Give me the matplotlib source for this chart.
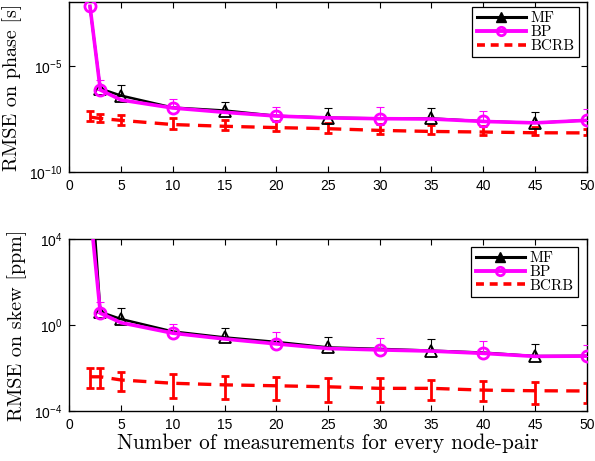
import matplotlib
matplotlib.use("Agg")
import matplotlib.pyplot as plt
import numpy as np
from matplotlib.lines import Line2D

plt.rcParams["mathtext.fontset"] = "custom"
plt.rcParams["mathtext.rm"] = "Liberation Sans"
plt.rcParams["mathtext.it"] = "Liberation Sans:italic"
plt.rcParams["font.family"] = "Liberation Sans"

# measurements per node-pair
x = [2, 3, 5, 10, 15, 20, 25, 30, 35, 40, 45, 50]

# phase RMSE [s]
mf_phase = [5.6e-3, 8.5e-7, 4.0e-7, 1.1e-7, 8.0e-8, 4.5e-8, 3.7e-8, 3.4e-8, 3.4e-8, 2.5e-8, 2.1e-8, 2.8e-8]
bp_phase = [6.3e-3, 7.4e-7, 2.5e-7, 1.05e-7, 6.6e-8, 4.4e-8, 3.6e-8, 3.3e-8, 3.2e-8, 2.45e-8, 2.1e-8, 2.75e-8]
bcrb_phase = [3.9e-8, 3.4e-8, 2.75e-8, 1.75e-8, 1.45e-8, 1.26e-8, 1.12e-8, 9.3e-9, 8.3e-9, 7.8e-9, 7.2e-9, 7.1e-9]
bcrb_phase_hi = [7.2e-8, 5.6e-8, 5.0e-8, 3.6e-8, 3.0e-8, 2.5e-8, 2.1e-8, 1.9e-8, 1.6e-8, 1.45e-8, 1.3e-8, 1.12e-8]
bcrb_phase_lo = [2.5e-8, 2.3e-8, 1.75e-8, 1.12e-8, 9.3e-9, 8.3e-9, 7.2e-9, 6.6e-9, 6.6e-9, 5.9e-9, 5.5e-9, 5.5e-9]
mf_phase_top = [1.3e-6, 2.1e-7, 1.1e-7, 1.07e-7, 6.5e-8]          # x = 5,15,25,35,45
bp_phase_top = [2.2e-6, 2.9e-7, 1.2e-7, 1.2e-7, 7.2e-8, 9.8e-8]   # x = 3,10,20,30,40,50

# skew RMSE [ppm]
mf_skew = [4e7, 4.0, 1.86, 0.49, 0.26, 0.16, 0.089, 0.076, 0.063, 0.051, 0.035, 0.036]
bp_skew = [2.5e5, 3.5, 1.26, 0.41, 0.22, 0.13, 0.079, 0.068, 0.060, 0.047, 0.034, 0.035]
bcrb_skew = [3.8e-3, 3.8e-3, 2.7e-3, 1.9e-3, 1.6e-3, 1.45e-3, 1.3e-3, 1.1e-3, 1.1e-3, 9.1e-4, 8.5e-4, 8.3e-4]
bcrb_skew_hi = [1.0e-2, 1.0e-2, 6.6e-3, 5.0e-3, 4.2e-3, 3.6e-3, 3.5e-3, 3.2e-3, 2.7e-3, 2.4e-3, 2.1e-3, 1.9e-3]
bcrb_skew_lo = [1.2e-3, 1.2e-3, 8.5e-4, 4.1e-4, 3.4e-4, 3.2e-4, 2.6e-4, 2.6e-4, 3.2e-4, 2.8e-4, 2.0e-4, 2.3e-4]
mf_skew_top = [6.3, 0.69, 0.28, 0.22, 0.13]
bp_skew_top = [11.2, 1.07, 0.45, 0.25, 0.18, 0.115]

mf_idx = [1, 2, 4, 6, 8, 10]
mf_err_idx = [2, 4, 6, 8, 10]
bp_idx = [0, 1, 3, 5, 7, 9, 11]
bp_err_idx = [1, 3, 5, 7, 9, 11]

SERIF = "cmr10"


def panel(ax, mf, bp, bcrb, lo, hi, mf_top, bp_top, ylim, yticks, ylabel, leg_anchor):
    xa = np.array(x, dtype=float)
    mf, bp, bcrb = np.array(mf), np.array(bp), np.array(bcrb)

    ax.plot(xa, mf, color="black", lw=1.8, marker="^", ms=8, mfc="none", mew=1.3,
            markevery=mf_idx, zorder=3)
    xi = xa[mf_err_idx]
    ax.errorbar(xi, mf[mf_err_idx], yerr=[np.zeros(len(xi)), np.array(mf_top) - mf[mf_err_idx]],
                fmt="none", ecolor="black", elinewidth=0.8, capsize=3, capthick=0.8, zorder=3)

    ax.plot(xa, bp, color="magenta", lw=2.6, marker="o", ms=8, mfc="none", mew=2,
            markevery=bp_idx, zorder=4)
    xi = xa[bp_err_idx]
    ax.errorbar(xi, bp[bp_err_idx], yerr=[np.zeros(len(xi)), np.array(bp_top) - bp[bp_err_idx]],
                fmt="none", ecolor="magenta", elinewidth=0.8, capsize=3, capthick=0.8, zorder=4)

    ax.errorbar(xa, bcrb, yerr=[bcrb - np.array(lo), np.array(hi) - bcrb], color="red",
                lw=2.4, ls=(0, (4, 2.5)), elinewidth=2, capsize=3.2, capthick=2, zorder=2)

    ax.set_yscale("log")
    ax.set_xlim(0, 50)
    ax.set_ylim(*ylim)
    ax.set_xticks(range(0, 51, 5))
    ax.set_yticks(yticks)
    ax.yaxis.set_minor_locator(matplotlib.ticker.NullLocator())
    ax.tick_params(direction="in", length=4, width=0.8, top=True, right=True,
                   labelsize=10, pad=5)
    for s in ax.spines.values():
        s.set_linewidth(1.0)
    ax.set_ylabel(ylabel, fontfamily=SERIF, fontsize=14.5, labelpad=5)

    handles = [Line2D([], [], color="black", lw=2.2, marker="^", ms=7, mfc="black"),
               Line2D([], [], color="magenta", lw=2.8, marker="o", ms=6, mfc="none", mew=2),
               Line2D([], [], color="red", lw=2.6, ls=(0, (2.2, 1.6)))]
    leg = ax.legend(handles, ["MF", "BP", "BCRB"], loc="upper right", bbox_to_anchor=leg_anchor,
                    borderaxespad=0, fancybox=False, framealpha=1, edgecolor="black",
                    prop={"family": SERIF, "size": 11}, handlelength=3.2,
                    handletextpad=0.3, labelspacing=0.0, borderpad=0.3)
    leg.get_frame().set_linewidth(0.9)


fig = plt.figure(figsize=(5.95, 4.61), dpi=100)
ax1 = fig.add_axes([69.3 / 595, 1 - 172.3 / 461, (586.7 - 69.3) / 595, 170.3 / 461])
ax2 = fig.add_axes([69.3 / 595, 1 - 410.7 / 461, (586.7 - 69.3) / 595, 171.7 / 461])

panel(ax1, mf_phase, bp_phase, bcrb_phase, bcrb_phase_lo, bcrb_phase_hi, mf_phase_top, bp_phase_top,
      (1e-10, 1e-2), [1e-10, 1e-5], "RMSE on phase [s]", (0.985, 0.97))
panel(ax2, mf_skew, bp_skew, bcrb_skew, bcrb_skew_lo, bcrb_skew_hi, mf_skew_top, bp_skew_top,
      (1e-4, 1e4), [1e-4, 1e0, 1e4], "RMSE on skew [ppm]", (0.983, 0.953))
ax2.set_xlabel("Number of measurements for every node-pair", fontfamily=SERIF, fontsize=15.3, labelpad=1)

fig.savefig("out.png", dpi=100)
